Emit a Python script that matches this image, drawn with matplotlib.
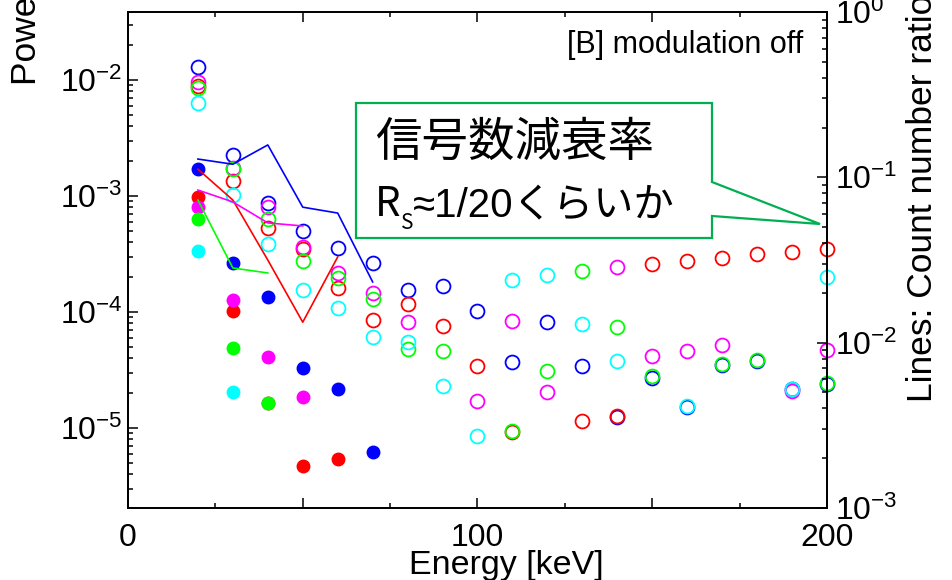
import matplotlib.pyplot as plt
import numpy as np
from matplotlib.patches import Polygon
from matplotlib.text import Annotation
from matplotlib.ticker import FixedLocator, LogLocator, NullFormatter

plt.rcParams['font.family'] = ['Liberation Sans', 'DejaVu Sans']
plt.rcParams['mathtext.fontset'] = 'custom'
plt.rcParams['mathtext.rm'] = 'Liberation Sans'
plt.rcParams['mathtext.it'] = 'Liberation Sans:italic'

nan = np.nan

# open circles: 20-200 keV in 10 keV steps
energy = np.arange(20, 201, 10)
open_blue = [1.29e-2, 2.25e-3, 8.7e-4, 4.99e-4, 3.56e-4, 2.64e-4, 1.55e-4, 1.67e-4, 1.02e-4, 3.7e-5,
             8.2e-5, 3.42e-5, 1.25e-5, 2.72e-5, 1.52e-5, 3.5e-5, 3.8e-5, 2.15e-5, 2.38e-5]
open_red = [8.8e-3, 1.35e-3, 5.3e-4, 3.49e-4, 1.61e-4, 8.5e-5, 1.17e-4, 7.6e-5, 3.42e-5, 9.3e-6,
            nan, 1.15e-5, 1.27e-5, 2.6e-4, 2.75e-4, 2.92e-4, 3.16e-4, 3.29e-4, 3.49e-4]
open_magenta = [9.6e-3, 1.75e-3, 8.0e-4, 3.63e-4, 2.17e-4, 1.46e-4, 8.2e-5, nan, 1.71e-5, 8.4e-5,
                2.04e-5, nan, 2.44e-4, 4.18e-5, 4.6e-5, 5.2e-5, nan, 2.1e-5, 4.7e-5]
open_green = [8.5e-3, 1.71e-3, 6.3e-4, 2.75e-4, 1.96e-4, 1.29e-4, 4.8e-5, 4.6e-5, nan, 9.4e-6,
              3.1e-5, 2.25e-4, 7.4e-5, 2.8e-5, nan, 3.56e-5, 3.86e-5, nan, 2.44e-5]
open_cyan = [6.3e-3, 1.02e-3, 3.86e-4, 1.55e-4, 1.08e-4, 6.1e-5, 5.5e-5, 2.3e-5, 8.5e-6, 1.89e-4,
             2.08e-4, 7.9e-5, 3.78e-5, nan, 1.55e-5, nan, nan, 2.17e-5, 2.0e-4]

# filled circles: 20-70 keV
energy_low = np.arange(20, 71, 10)
filled_blue = [1.71e-3, 2.64e-4, 1.35e-4, 3.29e-5, 2.17e-5, 6.2e-6]
filled_red = [9.8e-4, 1.02e-4, 1.65e-5, 4.7e-6, 5.4e-6, nan]
filled_magenta = [8.0e-4, 1.27e-4, 4.1e-5, 1.85e-5, nan, nan]
filled_green = [6.3e-4, 4.9e-5, 1.64e-5, nan, nan, nan]
filled_cyan = [3.36e-4, 2.04e-5, nan, nan, nan, nan]

# count number ratios (right axis)
ratio_blue = [0.129, 0.120, 0.157, 0.066, 0.0608, 0.0233]
ratio_red = [0.112, 0.0729, 0.0316, 0.0133, 0.033, nan]
ratio_magenta = [0.0838, 0.071, 0.053, 0.0508, nan, nan]
ratio_green = [0.0729, 0.0283, 0.0264, nan, nan, nan]

colors = ['#0000FF', '#FF0000', '#FF00FF', '#00FF00', '#00FFFF']
open_sets = [open_blue, open_red, open_magenta, open_green, open_cyan]
filled_sets = [filled_blue, filled_red, filled_magenta, filled_green, filled_cyan]
ratio_sets = [ratio_blue, ratio_red, ratio_magenta, ratio_green]

fig = plt.figure(figsize=(9.52, 5.8), dpi=100)
ax = fig.add_axes([128 / 952, 72 / 580, 699 / 952, 496 / 580])

for c, vals in zip(colors, open_sets):
    ax.plot(energy, vals, 'o', mfc='none', mec=c, ms=10, mew=1.3, clip_on=False)
for c, vals in zip(colors, filled_sets):
    ax.plot(energy_low, vals, 'o', mfc=c, mec=c, ms=9, clip_on=False)

ax.set_xlim(0, 200)
ax.set_yscale('log')
ax.set_ylim(10 ** -5.69, 10 ** -1.414)
ax.xaxis.set_major_locator(FixedLocator([0, 50, 100, 150, 200]))
ax.xaxis.set_minor_locator(FixedLocator([25, 75, 125, 175]))
ax.set_xticklabels(['0', '', '100', '', '200'])
ax.yaxis.set_minor_locator(LogLocator(base=10, subs=np.arange(2, 10)))
ax.yaxis.set_minor_formatter(NullFormatter())
ax.tick_params(which='both', direction='in', top=True, right=False, width=1.1, labelsize=23)
ax.tick_params(which='major', length=7)
ax.tick_params(which='minor', length=3.5)
ax.tick_params(axis='x', pad=11)
ax.tick_params(axis='y', pad=4)

ax2 = ax.twinx()
for c, vals in zip(colors, ratio_sets):
    ax2.plot(energy_low, vals, '-', color=c, lw=1.2)
ax2.set_yscale('log')
ax2.set_ylim(1e-3, 1)
ax2.yaxis.set_minor_locator(LogLocator(base=10, subs=np.arange(2, 10)))
ax2.yaxis.set_minor_formatter(NullFormatter())
ax2.tick_params(which='both', direction='in', width=1.1, labelsize=23, pad=6)
ax2.tick_params(which='major', length=7)
ax2.tick_params(which='minor', length=3.5)

for a in (ax, ax2):
    for s in a.spines.values():
        s.set_linewidth(1.3)

# axis titles
fig.text(27 / 952, 1 - 85 / 580, 'Power spectral density [a.u.]', rotation=90,
         ha='center', va='bottom', fontsize=25.5)
fig.text(923 / 952, 1 - 402 / 580, 'Lines: Count number ratios', rotation=90,
         ha='center', va='bottom', fontsize=25.5)
fig.text(506 / 952, 1 - 574 / 580, 'Energy [keV]', ha='center', va='baseline', fontsize=24.5)
ax.text(0.9657, 0.9173, '[B] modulation off', transform=ax.transAxes, ha='right', va='baseline',
        fontsize=22)

# callout box
px = [(356, 103), (712, 103), (712, 182), (820, 224), (712, 216), (712, 238), (356, 238)]
pts = [(x / 952, 1 - y / 580) for x, y in px]
fig.add_artist(Polygon(pts, closed=True, facecolor='white', edgecolor='#00B050', lw=1.6,
                       transform=fig.transFigure, zorder=5))

cjk = ['Noto Sans CJK JP', 'DejaVu Sans']
latin_cjk = ['Liberation Sans', 'Noto Sans CJK JP', 'DejaVu Sans']
fig.text(375 / 952, 1 - 143 / 580, '信号数減衰率', family=cjk, fontsize=33.5, va='center', zorder=6)
r_txt = fig.text(375 / 952, 1 - 216 / 580, 'R', family=cjk, fontsize=29, va='baseline', zorder=6)
s_txt = Annotation('S', xy=(1, 0), xycoords=r_txt, xytext=(0, -3), textcoords='offset points',
                   family=cjk, fontsize=15, va='baseline', ha='left', zorder=6)
fig.add_artist(s_txt)
rest_txt = Annotation('≈1/20くらいか', xy=(1, 0), xycoords=(s_txt, r_txt), family=latin_cjk,
                      fontsize=29, va='bottom', ha='left', zorder=6)
fig.add_artist(rest_txt)

fig.savefig('out.png', dpi=100)
